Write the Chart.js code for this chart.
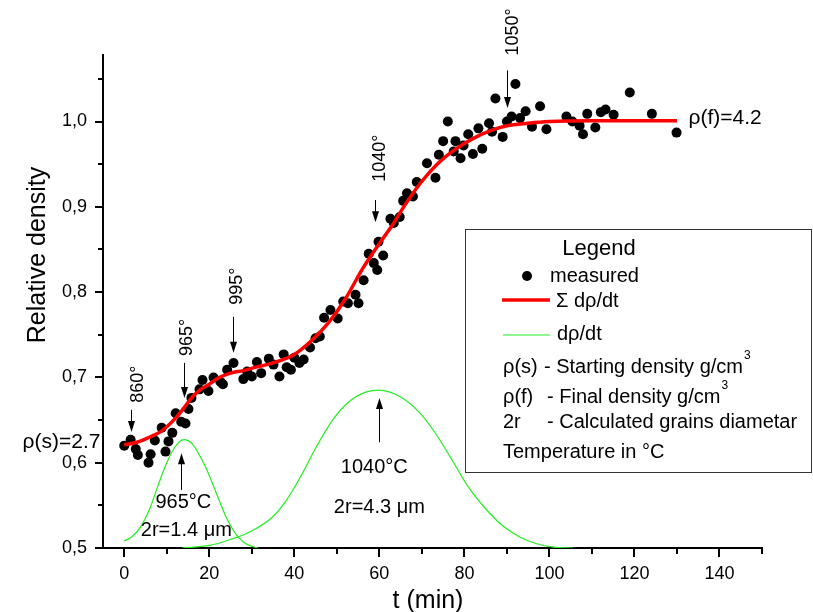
<!DOCTYPE html>
<html>
<head>
<meta charset="utf-8">
<script src="https://cdn.jsdelivr.net/npm/chart.js@4/dist/chart.umd.min.js"></script>
<style>
  html, body { margin: 0; padding: 0; background: #fff; }
  canvas { display: block; }
</style>
</head>
<body>
<canvas id="c" width="813" height="612"></canvas>
<script>
const FONT = '"Liberation Sans", Arial, Helvetica, sans-serif';

// Measured relative density vs time
const measuredT = [0.0,1.5,2.7,3.2,5.7,6.2,7.2,8.8,9.7,10.4,11.3,12.1,13.4,14.4,15.1,15.8,17.7,18.4,19.8,21.0,22.6,23.2,24.2,25.7,28.0,28.9,30.0,31.2,32.2,34.0,35.1,36.5,37.5,38.2,39.2,40.0,41.2,42.2,43.7,45.0,46.0,47.0,48.5,50.2,51.5,52.6,54.4,55.1,56.3,57.5,58.7,59.5,59.8,60.9,62.6,63.4,64.8,65.6,66.5,67.9,68.8,71.2,73.2,74.0,75.0,76.1,77.5,77.9,79.1,79.8,80.9,82.0,83.3,84.2,85.8,86.5,87.3,89.0,90.0,91.1,92.0,93.1,94.4,95.9,97.8,99.3,104.0,105.4,107.1,107.9,108.9,110.8,112.1,113.2,115.1,118.9,124.1,129.9];
const measuredRho = [0.620,0.627,0.616,0.609,0.600,0.610,0.626,0.641,0.613,0.625,0.635,0.658,0.648,0.646,0.663,0.676,0.686,0.697,0.684,0.700,0.695,0.692,0.709,0.717,0.698,0.707,0.701,0.718,0.705,0.722,0.715,0.701,0.727,0.712,0.709,0.723,0.717,0.721,0.735,0.746,0.748,0.770,0.779,0.769,0.789,0.787,0.797,0.787,0.814,0.845,0.834,0.826,0.859,0.843,0.886,0.881,0.888,0.907,0.916,0.912,0.929,0.951,0.934,0.961,0.977,1.000,0.965,0.977,0.957,0.972,0.985,0.962,0.992,0.968,0.998,0.988,1.027,0.982,1.000,1.006,1.044,1.004,1.012,0.994,1.018,0.991,1.006,1.000,0.995,0.985,1.009,0.993,1.011,1.014,1.008,1.034,1.009,0.987];

// Summed fit (Σ dρ/dt)
const fitT   = [0,3,6,9,12,14,16,18,20,22,25,28,31,35,40,44,48,52,56,60,63,66,70,74,78,82,86,90,95,100,110,120,130];
const fitRho = [0.621,0.624,0.630,0.638,0.652,0.664,0.677,0.686,0.692,0.699,0.705,0.708,0.712,0.717,0.727,0.743,0.764,0.792,0.827,0.857,0.878,0.902,0.930,0.952,0.968,0.980,0.989,0.995,0.998,1.000,1.001,1.001,1.001];

// Individual densification peaks (dρ/dt)
const peak1T    = [0,2,4,6,8,10,12,14,16,18,20,22,24,26,28,30,31.5];
const peak1Rate = [0.508,0.514,0.526,0.546,0.574,0.600,0.619,0.627,0.622,0.606,0.585,0.560,0.536,0.518,0.507,0.502,0.500];
const peak2T    = [13.6,20,25,30,35,38,41.4,45,49,53,57,60,65,69,73,77,81,85,89,93,97,101,105.6];
const peak2Rate = [0.500,0.503,0.510,0.520,0.537,0.555,0.583,0.617,0.650,0.672,0.683,0.685,0.677,0.661,0.636,0.604,0.571,0.546,0.526,0.513,0.505,0.501,0.500];

// Axes
const xRange = [-5, 150];
const yRange = [0.5, 1.078];
const xTickValues = [0, 20, 40, 60, 80, 100, 120, 140];
const xTickLabels = ['0', '20', '40', '60', '80', '100', '120', '140'];
const xMinorTicks = [10, 30, 50, 70, 90, 110, 130, 150];
const yTickValues = [0.5, 0.6, 0.7, 0.8, 0.9, 1.0];
const yTickLabels = ['0,5', '0,6', '0,7', '0,8', '0,9', '1,0'];
const yMinorTicks = [0.55, 0.65, 0.75, 0.85, 0.95, 1.05];

// Temperature marks on the measured curve: label, arrow x, arrow top, arrow tip, label x (baseline), label y (centre)
const tempMarks = [
  ['860°',  1.6,  0.662, 0.636, 4.5,  0.692],
  ['965°',  14.0, 0.717, 0.676, 15.9, 0.747],
  ['995°',  25.6, 0.771, 0.729, 27.7, 0.807],
  ['1040°', 59.0, 0.908, 0.882, 61.4, 0.957],
  ['1050°', 90.1, 1.060, 1.016, 92.7, 1.105]
];
// Peak labels: arrow x, arrow base, arrow tip, text lines [text, x, y]
const peakMarks = [
  [13.4, 0.568, 0.611, [['965°C', 13.9, 0.553], ['2r=1.4 μm', 14.6, 0.520]]],
  [60.0, 0.624, 0.676, [['1040°C', 58.8, 0.594], ['2r=4.3 μm', 60.0, 0.547]]]
];
const rhoStart = ['ρ(s)=2.7', -5.6, 0.624];
const rhoFinal = ['ρ(f)=4.2', 132.7, 1.004];

const toXY = (xs, ys) => xs.map((x, i) => ({ x: x, y: ys[i] }));

function arrow(ctx, x, y0, y1) {
  // shaft from y0 to tip y1 (pixels), filled head at y1
  const dir = y1 > y0 ? 1 : -1;
  const headLen = 11, halfW = 3.5;
  ctx.beginPath();
  ctx.moveTo(x, y0);
  ctx.lineTo(x, y1 - dir * headLen + dir * 1);
  ctx.stroke();
  ctx.beginPath();
  ctx.moveTo(x, y1);
  ctx.lineTo(x - halfW, y1 - dir * headLen);
  ctx.lineTo(x + halfW, y1 - dir * headLen);
  ctx.closePath();
  ctx.fill();
}

const decor = {
  id: 'decor',
  afterDraw(chart) {
    const ctx = chart.ctx;
    const xs = chart.scales.x, ys = chart.scales.y;
    const area = chart.chartArea;
    const X = v => xs.getPixelForValue(v);
    const Y = v => ys.getPixelForValue(v);
    ctx.save();
    ctx.fillStyle = '#000';
    ctx.strokeStyle = '#000';

    // tick marks
    ctx.lineWidth = 2;
    ctx.beginPath();
    yTickValues.forEach(v => { const p = Math.round(Y(v)); ctx.moveTo(area.left - 8, p); ctx.lineTo(area.left, p); });
    yMinorTicks.forEach(v => { const p = Math.round(Y(v)); ctx.moveTo(area.left - 5, p); ctx.lineTo(area.left, p); });
    xTickValues.forEach(v => { const p = Math.round(X(v)); ctx.moveTo(p, area.bottom); ctx.lineTo(p, area.bottom + 9); });
    xMinorTicks.forEach(v => { const p = Math.round(X(v)); ctx.moveTo(p, area.bottom); ctx.lineTo(p, area.bottom + 6); });
    ctx.stroke();

    // tick labels
    ctx.font = '18px ' + FONT;
    ctx.textAlign = 'right';
    ctx.textBaseline = 'middle';
    yTickValues.forEach((v, i) => ctx.fillText(yTickLabels[i], area.left - 16, Y(v)));
    ctx.textAlign = 'center';
    xTickValues.forEach((v, i) => ctx.fillText(xTickLabels[i], X(v), area.bottom + 26));

    // axis titles
    ctx.font = '25px ' + FONT;
    ctx.textBaseline = 'alphabetic';
    ctx.textAlign = 'center';
    ctx.fillText('t (min)', 428, 608);
    ctx.save();
    ctx.translate(45, 255);
    ctx.rotate(-Math.PI / 2);
    ctx.fillText('Relative density', 0, 0);
    ctx.restore();

    // temperature marks
    ctx.lineWidth = 1;
    ctx.font = '18px ' + FONT;
    tempMarks.forEach(m => {
      arrow(ctx, Math.round(X(m[1])) + 0.5, Y(m[2]), Y(m[3]));
      ctx.save();
      ctx.translate(X(m[4]), Y(m[5]));
      ctx.rotate(-Math.PI / 2);
      ctx.textAlign = 'center';
      ctx.textBaseline = 'alphabetic';
      ctx.fillText(m[0], 0, 0);
      ctx.restore();
    });

    // peak marks
    ctx.font = '20px ' + FONT;
    ctx.textAlign = 'center';
    ctx.textBaseline = 'middle';
    peakMarks.forEach(m => {
      arrow(ctx, Math.round(X(m[0])) + 0.5, Y(m[1]), Y(m[2]));
      m[3].forEach(t => ctx.fillText(t[0], X(t[1]), Y(t[2])));
    });

    // start / final density
    ctx.font = '21px ' + FONT;
    ctx.textAlign = 'right';
    ctx.fillText(rhoStart[0], X(rhoStart[1]), Y(rhoStart[2]));
    ctx.textAlign = 'left';
    ctx.fillText(rhoFinal[0], X(rhoFinal[1]), Y(rhoFinal[2]));

    // legend box
    ctx.lineWidth = 1;
    ctx.strokeStyle = '#333';
    ctx.strokeRect(465.5, 229.5, 346, 243);
    ctx.fillStyle = '#000';
    ctx.font = '22px ' + FONT;
    ctx.textAlign = 'center';
    ctx.fillText('Legend', 599, 249);
    ctx.textAlign = 'left';
    ctx.font = '20px ' + FONT;
    ctx.beginPath();
    ctx.arc(527, 276, 5, 0, Math.PI * 2);
    ctx.fill();
    ctx.fillText('measured', 550, 276);
    ctx.strokeStyle = '#ff0000';
    ctx.lineWidth = 3.5;
    ctx.beginPath(); ctx.moveTo(502, 300); ctx.lineTo(550, 300); ctx.stroke();
    ctx.fillText('Σ dρ/dt', 556, 301);
    ctx.strokeStyle = '#22ee22';
    ctx.lineWidth = 1.2;
    ctx.beginPath(); ctx.moveTo(503, 335); ctx.lineTo(550, 335); ctx.stroke();
    ctx.fillText('dρ/dt', 557, 334);

    const sup = (text, x, y) => {
      ctx.fillText(text, x, y);
      const w = ctx.measureText(text).width;
      ctx.save();
      ctx.font = '12px ' + FONT;
      ctx.fillText('3', x + w + 1, y - 11);
      ctx.restore();
    };
    ctx.fillText('ρ(s)', 503, 367);
    sup('- Starting density g/cm', 544, 367);
    ctx.fillText('ρ(f)', 503, 397);
    sup('- Final density g/cm', 547, 397);
    ctx.fillText('2r', 503, 422);
    ctx.fillText('- Calculated grains diametar', 547, 422);
    ctx.fillText('Temperature in °C', 503, 452);
    ctx.restore();
  }
};

new Chart(document.getElementById('c'), {
  type: 'line',
  data: {
    datasets: [
      { label: 'dρ/dt', data: toXY(peak1T, peak1Rate), borderColor: '#22ee22', borderWidth: 1.2,
        pointRadius: 0, cubicInterpolationMode: 'monotone', fill: false, order: 3 },
      { label: 'dρ/dt', data: toXY(peak2T, peak2Rate), borderColor: '#22ee22', borderWidth: 1.2,
        pointRadius: 0, cubicInterpolationMode: 'monotone', fill: false, order: 3 },
      { label: 'measured', data: toXY(measuredT, measuredRho), showLine: false,
        pointRadius: 5, pointBorderWidth: 0, pointBackgroundColor: '#000', pointBorderColor: '#000', order: 2 },
      { label: 'Σ dρ/dt', data: toXY(fitT, fitRho), borderColor: '#ff0000', borderWidth: 3.5,
        pointRadius: 0, cubicInterpolationMode: 'monotone', fill: false, order: 1 }
    ]
  },
  options: {
    responsive: false,
    animation: false,
    devicePixelRatio: 1,
    layout: { padding: { top: 55, right: 51, left: 0, bottom: 0 } },
    plugins: { legend: { display: false }, tooltip: { enabled: false } },
    elements: { line: { borderCapStyle: 'butt' } },
    scales: {
      x: {
        type: 'linear', min: xRange[0], max: xRange[1],
        grid: { display: false },
        border: { display: true, color: '#000', width: 2 },
        ticks: { display: false },
        afterFit: s => { s.height = 64; }
      },
      y: {
        type: 'linear', min: yRange[0], max: yRange[1],
        grid: { display: false },
        border: { display: true, color: '#000', width: 2 },
        ticks: { display: false },
        afterFit: s => { s.width = 103; }
      }
    }
  },
  plugins: [decor]
});
</script>
</body>
</html>
